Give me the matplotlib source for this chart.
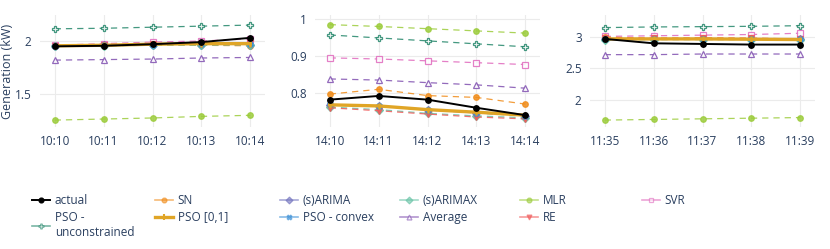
import matplotlib
matplotlib.use("Agg")
import matplotlib.pyplot as plt
from matplotlib.lines import Line2D

plt.rcParams['font.family'] = ['Open Sans', 'DejaVu Sans']

names = ["actual", "SN", "(s)ARIMA", "(s)ARIMAX", "MLR", "SVR",
         "PSO -\nunconstrained", "PSO [0,1]", "PSO - convex", "Average", "RE"]

ticks1 = ["10:10", "10:11", "10:12", "10:13", "10:14"]
ticks2 = ["14:10", "14:11", "14:12", "14:13", "14:14"]
ticks3 = ["11:35", "11:36", "11:37", "11:38", "11:39"]

# panel 1
p1_actual = [1.95, 1.955, 1.97, 1.99, 2.03]
p1_sn = [1.95, 1.96, 1.97, 1.96, 1.955]
p1_arima = [1.95, 1.96, 1.965, 1.965, 1.965]
p1_arimax = [1.95, 1.955, 1.96, 1.96, 1.965]
p1_mlr = [1.255, 1.265, 1.275, 1.29, 1.30]
p1_svr = [1.96, 1.975, 1.99, 2.0, 2.02]
p1_pso_unc = [2.115, 2.12, 2.13, 2.14, 2.15]
p1_pso01 = [1.955, 1.96, 1.97, 1.975, 1.975]
p1_pso_cvx = [1.955, 1.96, 1.965, 1.97, 1.97]
p1_avg = [1.82, 1.825, 1.83, 1.84, 1.845]
p1_re = [1.955, 1.96, 1.97, 1.975, 1.985]

# panel 2
p2_actual = [0.782, 0.792, 0.782, 0.760, 0.740]
p2_sn = [0.797, 0.810, 0.793, 0.788, 0.770]
p2_arima = [0.768, 0.764, 0.754, 0.746, 0.738]
p2_arimax = [0.762, 0.755, 0.745, 0.738, 0.733]
p2_mlr = [0.985, 0.980, 0.974, 0.968, 0.962]
p2_svr = [0.895, 0.892, 0.887, 0.882, 0.877]
p2_pso_unc = [0.957, 0.949, 0.941, 0.933, 0.925]
p2_pso01 = [0.768, 0.765, 0.755, 0.748, 0.740]
p2_pso_cvx = [0.769, 0.765, 0.755, 0.747, 0.739]
p2_avg = [0.838, 0.835, 0.828, 0.822, 0.813]
p2_re = [0.760, 0.752, 0.743, 0.735, 0.730]

# panel 3
p3_actual = [2.97, 2.90, 2.89, 2.88, 2.88]
p3_sn = [3.0, 2.98, 2.99, 2.98, 2.97]
p3_arima = [2.97, 2.97, 2.97, 2.97, 2.97]
p3_arimax = [2.95, 2.96, 2.96, 2.96, 2.96]
p3_mlr = [1.68, 1.69, 1.70, 1.71, 1.72]
p3_svr = [3.01, 3.02, 3.03, 3.04, 3.06]
p3_pso_unc = [3.15, 3.16, 3.165, 3.17, 3.18]
p3_pso01 = [2.97, 2.97, 2.97, 2.965, 2.96]
p3_pso_cvx = [2.97, 2.97, 2.97, 2.97, 2.965]
p3_avg = [2.72, 2.72, 2.73, 2.73, 2.73]
p3_re = [2.99, 2.98, 2.98, 2.98, 2.97]

# style per series: color, marker, open marker, linestyle, width
styles = [
    ("black", "o", False, "-", 1.4),
    ("#f08c1a", "o", False, "--", 0.9),
    ("#6f70bd", "D", False, "--", 0.9),
    ("#66c2a5", "D", False, "--", 0.9),
    ("#9ccc3c", "o", False, "--", 0.9),
    ("#e069bd", "s", True, "--", 0.9),
    ("#23866a", "P", True, "--", 0.9),
    ("#e0a526", "|", False, "-", 2.4),
    ("#3a8fd6", "X", False, "--", 0.9),
    ("#8050b0", "^", True, "--", 0.9),
    ("#f05a5a", "v", False, "--", 0.9),
]

panels = [
    (ticks1, [p1_actual, p1_sn, p1_arima, p1_arimax, p1_mlr, p1_svr, p1_pso_unc, p1_pso01, p1_pso_cvx, p1_avg, p1_re],
     (1.19, 2.245), [1.5, 2], ["1.5", "2"], 40),
    (ticks2, [p2_actual, p2_sn, p2_arima, p2_arimax, p2_mlr, p2_svr, p2_pso_unc, p2_pso01, p2_pso_cvx, p2_avg, p2_re],
     (0.708, 1.011), [0.8, 0.9, 1.0], ["0.8", "0.9", "1"], 315),
    (ticks3, [p3_actual, p3_sn, p3_arima, p3_arimax, p3_mlr, p3_svr, p3_pso_unc, p3_pso01, p3_pso_cvx, p3_avg, p3_re],
     (1.57, 3.35), [2, 2.5, 3], ["2", "2.5", "3"], 590),
]

W, H = 830, 249
fig = plt.figure(figsize=(W / 100, H / 100), dpi=100)
txt = "#2a3f5f"
draw_order = [4, 6, 9, 5, 1, 2, 3, 10, 8, 7, 0]

for ticks, series, ylim, yt, ytl, left in panels:
    ax = fig.add_axes([left / W, 1 - 127 / H, 225 / W, 112 / H])
    x = list(range(len(ticks)))
    for i in draw_order:
        c, m, op, ls, lw = styles[i]
        ax.plot(x, series[i], color=c, ls=ls, lw=lw, marker=m,
                ms=5 if m == "|" else 4,
                mfc="white" if op else c, mec=c, mew=1.8 if m == "|" else 0.9,
                dashes=(5, 4) if ls == "--" else (None, None),
                alpha=0.85 if ls == "--" else 1.0, zorder=3 if i == 0 else 2)
    ax.set_xlim(-0.3, 4.3)
    ax.set_ylim(*ylim)
    ax.set_xticks(x)
    ax.set_xticklabels(ticks)
    ax.set_yticks(yt)
    ax.set_yticklabels(ytl)
    ax.grid(True, color="#ebebeb", lw=0.8)
    ax.set_axisbelow(True)
    for s in ax.spines.values():
        s.set_visible(False)
    ax.tick_params(length=0, labelsize=8.5, colors=txt, pad=6)
    if left == 40:
        ax.set_ylabel("Generation (kW)", color=txt, fontsize=9)
        ax.yaxis.set_label_coords(-26 / 225, 0.5)

# legend, one column at a time
cols = [[0, 6], [1, 7], [2, 8], [3, 9], [4, 10], [5]]
col_x = [24, 147, 272, 392, 512, 634]
for col, cx in zip(cols, col_x):
    handles = []
    for i in col:
        c, m, op, ls, lw = styles[i]
        handles.append(Line2D([], [], color=c, ls="-", lw=lw if i in (0, 7) else 1.2, marker=m,
                              ms=4 if m == "|" else 3.5,
                              mfc="white" if op else c, mec=c, mew=1.5 if m == "|" else 0.9,
                              alpha=1.0 if i in (0, 7) else 0.6))
    fig.legend(handles, [names[i] for i in col], loc="upper left",
               bbox_to_anchor=(cx / W, 1 - 186 / H), frameon=False,
               fontsize=8.5, labelcolor=txt, handlelength=1.5, handletextpad=0.4,
               labelspacing=0.3, borderpad=0.2)

fig.savefig("out.png", dpi=100)
